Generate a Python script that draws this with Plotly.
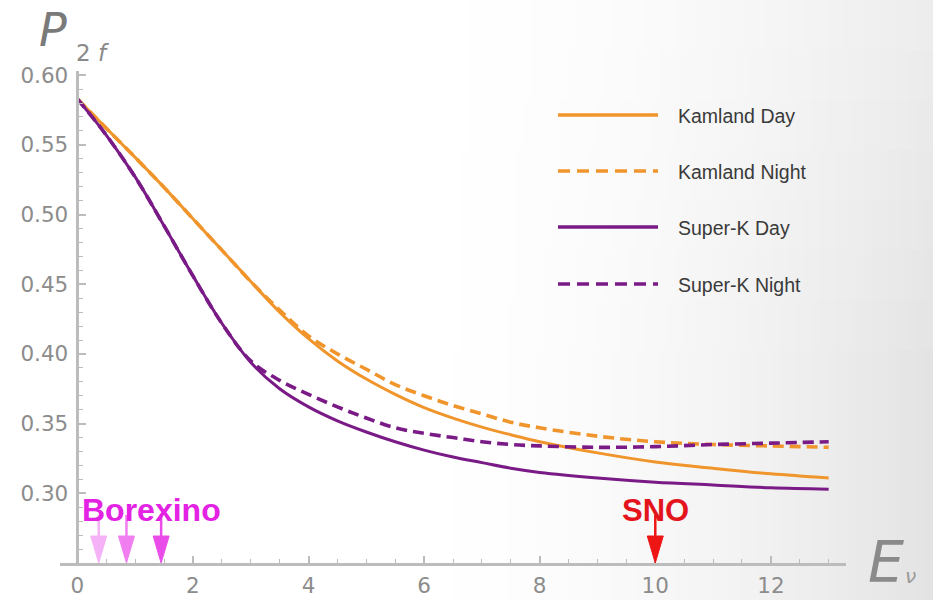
import plotly.graph_objects as go

# ---- data -------------------------------------------------------------
energy = [0, 0.5, 1, 1.5, 2, 2.5, 3, 3.5, 4, 4.5, 5, 5.5, 6, 6.5, 7, 7.5, 8,
          9, 10, 11, 12, 13]

kamland_day = [0.583, 0.562, 0.541, 0.5195, 0.497, 0.4745, 0.452, 0.430, 0.411,
               0.395, 0.382, 0.371, 0.3615, 0.354, 0.3475, 0.342, 0.337,
               0.329, 0.3225, 0.318, 0.314, 0.311]
kamland_night = [0.583, 0.562, 0.541, 0.5195, 0.497, 0.4745, 0.452, 0.4315, 0.413,
                 0.400, 0.389, 0.378, 0.370, 0.363, 0.357, 0.351, 0.347,
                 0.341, 0.337, 0.335, 0.334, 0.333]
superk_day = [0.583, 0.557, 0.527, 0.492, 0.456, 0.422, 0.394, 0.375, 0.362,
              0.352, 0.344, 0.337, 0.331, 0.326, 0.322, 0.318, 0.315,
              0.311, 0.308, 0.306, 0.304, 0.303]
superk_night = [0.583, 0.557, 0.527, 0.492, 0.456, 0.422, 0.395, 0.381, 0.371,
                0.362, 0.354, 0.347, 0.343, 0.340, 0.337, 0.335, 0.334,
                0.333, 0.3335, 0.335, 0.336, 0.337]

series_names = ["Kamland Day", "Kamland Night", "Super-K Day", "Super-K Night"]
series_values = [kamland_day, kamland_night, superk_day, superk_night]

borexino_energies = [0.37, 0.85, 1.45]
sno_energy = [10]

x_ticks = [0, 2, 4, 6, 8, 10, 12]
y_ticks = [0.30, 0.35, 0.40, 0.45, 0.50, 0.55, 0.60]

# ---- styling ----------------------------------------------------------
ORANGE = "#f0952c"
PURPLE = "#7a1a86"
colors = [ORANGE, ORANGE, PURPLE, PURPLE]
dashes = ["solid", "11px,6px", "solid", "11px,6px"]
widths = [3, 3.6, 3, 3.6]
legend_dashes = ["solid", "12px,7px", "solid", "12px,7px"]

W, H = 933, 600
ML, MR, MT, MB = 60, 87, 71, 37
PW, PH = W - ML - MR, H - MT - MB
X_RANGE = [-0.3, 13.3]
Y_RANGE = [0.25, 0.603]


def px_x(px):
    return (px - ML) / PW


def px_y(py):
    return (H - MB - py) / PH


fig = go.Figure()

for name, vals, col, dash, lw in zip(series_names, series_values, colors,
                                     dashes, widths):
    fig.add_trace(go.Scatter(
        x=energy, y=vals, mode="lines", name=name,
        line=dict(color=col, width=lw, dash=dash, shape="spline", smoothing=1.0),
        showlegend=False, hoverinfo="skip",
    ))

shapes = []

# soft grey wash towards the right edge of the canvas
n_cols, n_rows = 70, 12
x0_px, x1_px = 400, W
for i in range(n_cols):
    a = x0_px + (x1_px - x0_px) * i / n_cols
    b = x0_px + (x1_px - x0_px) * (i + 1) / n_cols
    t = (i + 0.5) / n_cols
    for j in range(n_rows):
        top = H * j / n_rows
        bot = H * (j + 1) / n_rows
        v = (j + 0.5) / n_rows
        depth = 18 + 10 * min(1.0, v * 1.6)
        g = int(round(255 - depth * t ** 1.8))
        shapes.append(dict(
            type="rect", xref="paper", yref="paper",
            x0=px_x(a), x1=px_x(b + 1), y0=px_y(bot + 1), y1=px_y(top),
            fillcolor=f"rgb({g},{g},{g})", line=dict(width=0),
            layer="below",
        ))

# hand-drawn legend
legend_rows = [115, 171, 227, 284]
annotations = []
for name, col, dash, row in zip(series_names, colors, legend_dashes, legend_rows):
    shapes.append(dict(
        type="line", xref="paper", yref="paper",
        x0=px_x(558), x1=px_x(658), y0=px_y(row), y1=px_y(row),
        line=dict(color=col, width=3.6, dash=dash),
    ))
    annotations.append(dict(
        xref="paper", yref="paper", x=px_x(676), y=px_y(row + 1),
        xanchor="left", yanchor="middle", showarrow=False, text=name,
        font=dict(family="Liberation Sans", size=19.5, color="#3a3a3a"),
    ))

# detector arrows
px_per_x = PW / (X_RANGE[1] - X_RANGE[0])
px_per_y = PH / (Y_RANGE[1] - Y_RANGE[0])
head_half = 8 / px_per_x
head_len = 27 / px_per_y
shaft_top = 48 / px_per_y


def add_arrow(xv, col):
    base = Y_RANGE[0]
    shapes.append(dict(
        type="line", xref="x", yref="y",
        x0=xv, x1=xv, y0=base + shaft_top, y1=base + head_len * 0.9,
        line=dict(color=col, width=2.5),
    ))
    shapes.append(dict(
        type="path", xref="x", yref="y",
        path=(f"M {xv - head_half},{base + head_len} "
              f"L {xv + head_half},{base + head_len} "
              f"L {xv},{base} Z"),
        fillcolor=col, line=dict(color=col, width=1),
    ))


for xv, col in zip(borexino_energies, ["#f6b2f6", "#f07ef0", "#ea4cea"]):
    add_arrow(xv, col)
for xv in sno_energy:
    add_arrow(xv, "#ee1515")

annotations.append(dict(
    xref="paper", yref="paper", x=px_x(80), y=px_y(510),
    xanchor="left", yanchor="middle", showarrow=False, text="<b>Borexino</b>",
    font=dict(family="Liberation Sans", size=32, color="#e322e3"),
))
annotations.append(dict(
    xref="x", yref="paper", x=sno_energy[0], y=px_y(510),
    xanchor="center", yanchor="middle", showarrow=False, text="<b>SNO</b>",
    font=dict(family="Liberation Sans", size=31, color="#e3141c"),
))

# axis titles
annotations.append(dict(
    xref="paper", yref="paper", x=px_x(37), y=px_y(30),
    xanchor="left", yanchor="middle", showarrow=False, text="<i>P</i>",
    font=dict(family="DejaVu Sans", size=46, color="#7a7a7a"),
))
annotations.append(dict(
    xref="paper", yref="paper", x=px_x(74), y=px_y(53),
    xanchor="left", yanchor="middle", showarrow=False, text="2 <i>f</i>",
    font=dict(family="DejaVu Sans", size=23, color="#8a8a8a"),
))
annotations.append(dict(
    xref="paper", yref="paper", x=px_x(866), y=px_y(562),
    xanchor="left", yanchor="middle", showarrow=False, text="<i>E</i>",
    font=dict(family="DejaVu Sans", size=57, color="#8a8a8a"),
))
annotations.append(dict(
    xref="paper", yref="paper", x=px_x(903), y=px_y(576),
    xanchor="left", yanchor="middle", showarrow=False, text="<i>ν</i>",
    font=dict(family="DejaVu Sans", size=20, color="#9a9a9a"),
))

AXIS_COL = "#bcbcbc"
TICK_FONT = dict(family="DejaVu Sans", size=21.5, color="#8c8c8c")

x_minor = [v / 2 for v in range(1, 27) if v % 4 != 0]
y_minor = [round(0.25 + k * 0.01, 2) for k in range(1, 36)
           if k % 5 != 0]

fig.update_layout(
    width=W, height=H,
    margin=dict(l=ML, r=MR, t=MT, b=MB, autoexpand=False),
    paper_bgcolor="white", plot_bgcolor="rgba(0,0,0,0)",
    shapes=shapes, annotations=annotations,
    xaxis=dict(
        range=X_RANGE, domain=[0, 1], showgrid=False, zeroline=False,
        automargin=False,
        showline=True, linecolor=AXIS_COL, linewidth=2.5,
        tickvals=x_ticks, ticktext=[str(v) for v in x_ticks],
        ticks="inside", ticklen=7, tickwidth=1.5, tickcolor=AXIS_COL,
        tickfont=TICK_FONT, ticklabelstandoff=1,
        minor=dict(tickvals=x_minor, ticks="inside", ticklen=4,
                   tickwidth=1.2, tickcolor=AXIS_COL),
        fixedrange=True,
    ),
    yaxis=dict(
        range=Y_RANGE, showgrid=False, zeroline=False,
        automargin=False,
        anchor="free", position=(0 - X_RANGE[0]) / (X_RANGE[1] - X_RANGE[0]),
        showline=True, linecolor=AXIS_COL, linewidth=2.5,
        tickvals=y_ticks, ticktext=[f"{v:.2f}" for v in y_ticks],
        ticks="inside", ticklen=7, tickwidth=1.5, tickcolor=AXIS_COL,
        tickfont=TICK_FONT, ticklabelstandoff=4,
        minor=dict(tickvals=y_minor, ticks="inside", ticklen=4,
                   tickwidth=1.2, tickcolor=AXIS_COL),
        fixedrange=True,
    ),
    showlegend=False,
)

fig.write_html("out.html")
